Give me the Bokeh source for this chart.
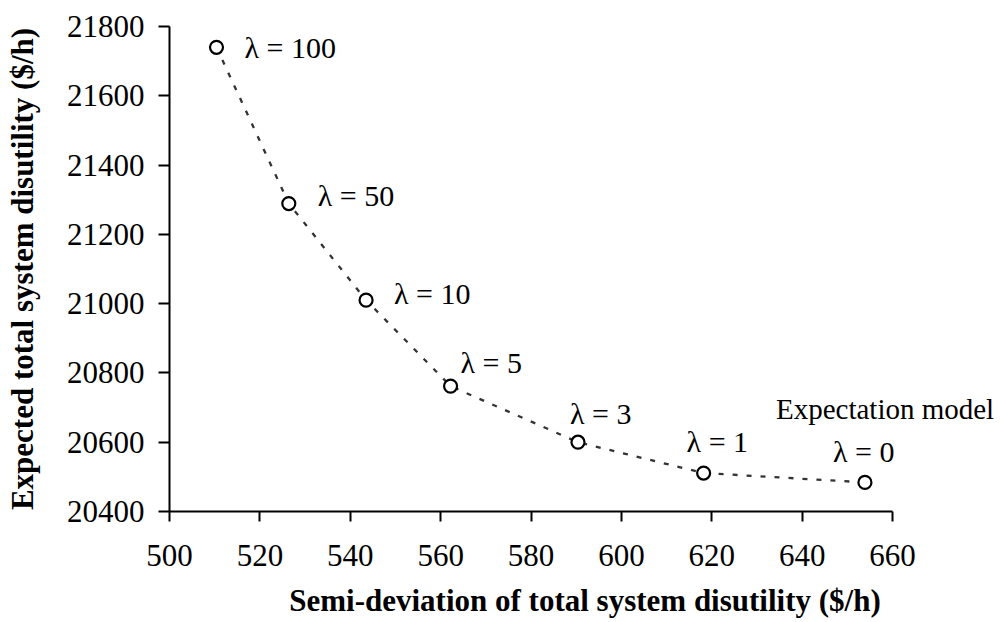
from bokeh.plotting import figure
from bokeh.models import ColumnDataSource, FixedTicker, Range1d
from bokeh.core.properties import value
from bokeh.embed import file_html
from bokeh.resources import INLINE

# ---- data ----
semi_dev = [510.4, 526.4, 543.5, 562.2, 590.4, 618.2, 653.9]
expected = [21740, 21289, 21010, 20762, 20600, 20511, 20484]
lambda_labels = ["λ = 100", "λ = 50", "λ = 10", "λ = 5", "λ = 3", "λ = 1", "λ = 0"]
x_ticks = [500, 520, 540, 560, 580, 600, 620, 640, 660]
y_ticks = [20400, 20600, 20800, 21000, 21200, 21400, 21600, 21800]
x_title = "Semi-deviation of total system disutility ($/h)"
y_title = "Expected total system disutility ($/h)"
note_text = "Expectation model"

# ---- label placement (screen pixel offsets from each point) ----
dx = [28, 29, 28, 10, -8, -17, -32]
dy = [0, -8, -7, -24, -29, -32, -31]

FONT = "Liberation Serif"
W, H = 1000, 620
LEFT, TOP = 169, 26
FRAME_BOTTOM = 512
BOTTOM = H - FRAME_BOTTOM
frame_w = W - LEFT
axis_px = 723  # pixel length of 500..660 on screen
x_end = x_ticks[0] + (x_ticks[-1] - x_ticks[0]) * frame_w / axis_px

p = figure(width=W, height=H, output_backend="svg", toolbar_location=None,
           x_range=Range1d(x_ticks[0], x_end),
           y_range=Range1d(y_ticks[0], y_ticks[-1]),
           min_border_left=LEFT, min_border_top=TOP,
           min_border_bottom=BOTTOM, min_border_right=0)
p.title.visible = False
p.outline_line_color = None
p.grid.visible = False
p.background_fill_color = "white"
p.border_fill_color = "white"

for ax in (p.xaxis, p.yaxis):
    ax.axis_line_width = 2
    ax.axis_line_color = "black"
    ax.major_tick_line_width = 2
    ax.major_tick_line_color = "black"
    ax.major_tick_in = 0
    ax.minor_tick_line_color = None
    ax.major_label_text_font = FONT
    ax.major_label_text_font_size = "31px"
    ax.major_label_text_color = "black"
    ax.axis_label_text_font = FONT
    ax.axis_label_text_font_style = "bold"
    ax.axis_label_text_font_size = "31px"
    ax.axis_label_text_color = "black"

p.xaxis.bounds = (x_ticks[0], x_ticks[-1])
p.xaxis.ticker = FixedTicker(ticks=x_ticks)
p.yaxis.ticker = FixedTicker(ticks=y_ticks)
p.xaxis.major_tick_out = 10
p.yaxis.major_tick_out = 11
p.xaxis.major_label_standoff = 23
p.yaxis.major_label_standoff = 14
p.xaxis.axis_label = x_title
p.yaxis.axis_label = y_title
p.xaxis.axis_label_standoff = 14
p.yaxis.axis_label_standoff = 24

src = ColumnDataSource(dict(x=semi_dev, y=expected, t=lambda_labels, dx=dx, dy=dy))

p.line("x", "y", source=src, line_color="#333333", line_width=2.3, line_dash="5 9")
p.scatter("x", "y", source=src, marker="circle", size=13, fill_color="white",
          line_color="black", line_width=2.2)
p.text("x", "y", text="t", source=src, x_offset="dx", y_offset="dy",
       text_font=value(FONT), text_font_size="30px", text_color="black",
       text_align="left", text_baseline="middle")
p.text(x=[semi_dev[-1]], y=[expected[-1]], text=[note_text], x_offset=-89, y_offset=-73,
       text_font=value(FONT), text_font_size="29px", text_color="black",
       text_align="left", text_baseline="middle")

open("out.html", "w").write(file_html(p, INLINE))
